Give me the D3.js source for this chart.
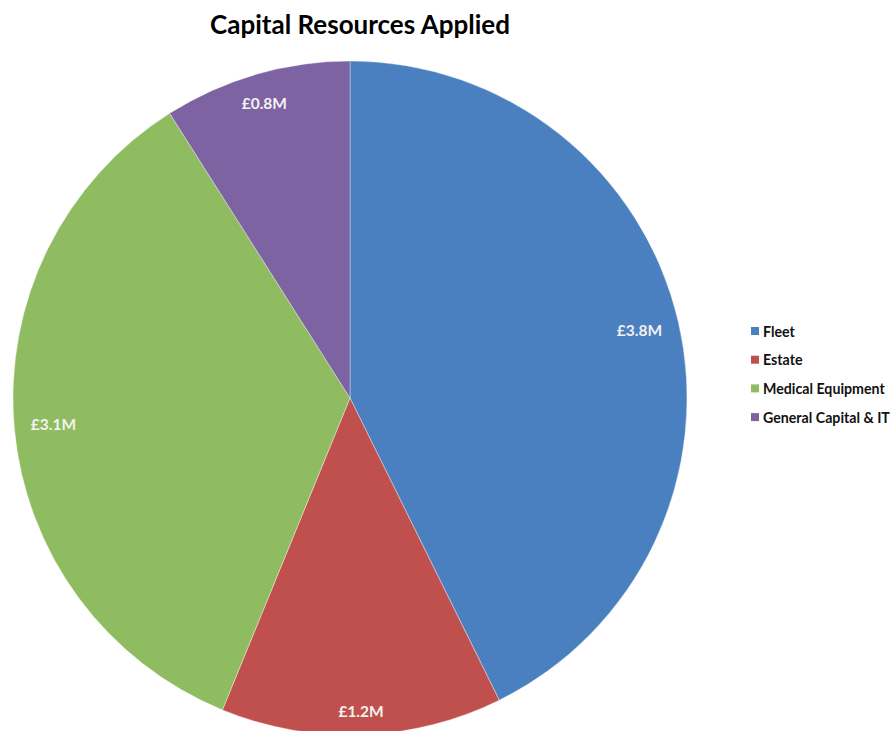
<!DOCTYPE html>
<html>
<head>
<meta charset="utf-8">
<script src="https://cdn.jsdelivr.net/npm/d3@7"></script>
<style>
  html, body { margin: 0; padding: 0; background: #ffffff; }
  svg { display: block; font-family: Lato, "Open Sans", sans-serif; }
</style>
</head>
<body>
<svg id="chart" width="892" height="731"></svg>
<script>
// Capital spend by category (£ millions)
const categories = ["Fleet", "Estate", "Medical Equipment", "General Capital & IT"];
const values = [3.8, 1.2, 3.1, 0.8];
const valueLabels = ["£3.8M", "£1.2M", "£3.1M", "£0.8M"];
const colors = ["#4A7FC0", "#C0504E", "#8FBC61", "#7E63A3"];
const title = "Capital Resources Applied";

const W = 892, H = 731;
const cx = 350, cy = 398, radius = 337;

const svg = d3.select("#chart");

// Title
const titleText = svg.append("text")
  .attr("x", 360)
  .attr("y", 34)
  .attr("text-anchor", "middle")
  .attr("font-weight", 700)
  .attr("font-size", 24)
  .attr("fill", "#000")
  .text(title);
// scale the title to its intended width
const tw = titleText.node().getComputedTextLength();
titleText.attr("font-size", 24 * 300 / tw);

const data = categories.map((c, i) => ({ name: c, value: values[i], label: valueLabels[i], color: colors[i] }));

const pie = d3.pie()
  .value(d => d.value)
  .sort(null);

const arc = d3.arc()
  .innerRadius(0)
  .outerRadius(radius);

const arcs = pie(data);

const g = svg.append("g").attr("transform", `translate(${cx},${cy})`);

g.selectAll("path.slice")
  .data(arcs)
  .join("path")
  .attr("class", "slice")
  .attr("d", arc)
  .attr("fill", d => d.data.color)
  .attr("stroke", "rgba(255,255,255,0.45)")
  .attr("stroke-width", 0.8);

// Value labels placed at the inside end of each slice
const edge = radius - 16;
g.selectAll("text.value")
  .data(arcs)
  .join("text")
  .attr("class", "value")
  .attr("text-anchor", "middle")
  .attr("dominant-baseline", "central")
  .attr("font-weight", 700)
  .attr("font-size", 15.5)
  .attr("fill", "#f2f2f2")
  .text(d => d.data.label)
  .each(function (d) {
    const a = (d.startAngle + d.endAngle) / 2;
    const bb = this.getBBox();
    const hw = bb.width / 2, hh = 7.5;
    const r = edge - (hw * Math.abs(Math.sin(a)) + hh * Math.abs(Math.cos(a)));
    d3.select(this)
      .attr("x", r * Math.sin(a))
      .attr("y", -r * Math.cos(a));
  });

// Legend
const legend = svg.append("g").attr("transform", "translate(751,331)");
const step = 28.7;
const items = legend.selectAll("g.item")
  .data(data)
  .join("g")
  .attr("class", "item")
  .attr("transform", (d, i) => `translate(0,${i * step})`);

items.append("rect")
  .attr("x", 0)
  .attr("y", -4)
  .attr("width", 8)
  .attr("height", 8)
  .attr("fill", d => d.color);

items.append("text")
  .attr("x", 12)
  .attr("y", 0)
  .attr("dominant-baseline", "central")
  .attr("font-weight", 700)
  .attr("font-size", 14.2)
  .attr("fill", "#111")
  .text(d => d.name);
</script>
</body>
</html>
